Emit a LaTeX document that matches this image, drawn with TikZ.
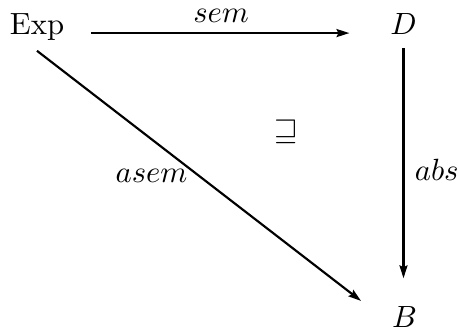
\documentclass[tikz,border=0pt]{standalone}
\usepackage{amssymb}
\usetikzlibrary{arrows.meta}
\begin{document}
\begin{tikzpicture}[x=0.3257pt,y=0.3257pt,
    every node/.style={anchor=base},
    arr/.style={-{Stealth[length=4.2pt,width=2.6pt,inset=0.6pt]},line width=0.7pt}]
\useasboundingbox (0,0) rectangle (459,334);

\node (Exp) at (37,300) {Exp};
\node (D) at (403.5,300) {$D$};
\node (B) at (404.5,7) {$B$};
\node[anchor=center] (rel) at (286,202) {$\sqsupseteq$};

\draw[arr,shorten <=5.2pt,shorten >=9.8pt] ([yshift=0.3pt]Exp.base east)--([yshift=0.3pt]D.base west)
    node[pos=0.48,anchor=south,inner sep=1pt,yshift=2.2pt] {$sem$};
\draw[arr,shorten <=1pt,shorten >=5.5pt] (D.south)--(D.south |- B.north)
    node[midway,anchor=west] {$abs$};
\draw[arr,shorten >=8.3pt] (Exp.south)--(B.west)
    node[pos=0.47,anchor=east] {$asem$};
\end{tikzpicture}
\end{document}
